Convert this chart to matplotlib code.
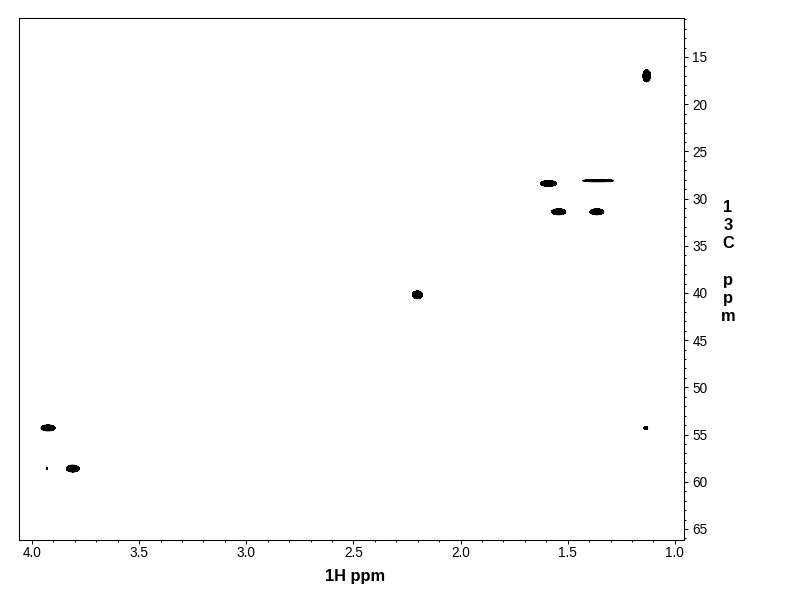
"""HSQC-style 2D NMR spectrum, black contour peaks (headless Agg backend)."""
import matplotlib

matplotlib.use("Agg")
import matplotlib.pyplot as plt  # noqa: E402
import numpy as np  # noqa: E402
from matplotlib.ticker import MultipleLocator, FormatStrFormatter  # noqa: E402

# peak list: 1H shift, 13C shift, half-widths (ppm)
h_shift = [1.131, 1.589, 1.357, 1.542, 1.364, 2.201, 3.925, 3.810, 3.930, 1.136]
c_shift = [17.0, 28.4, 28.1, 31.4, 31.4, 40.2, 54.3, 58.6, 58.6, 54.3]
h_width = [0.018, 0.037, 0.072, 0.033, 0.033, 0.024, 0.033, 0.030, 0.003, 0.010]
c_width = [0.64, 0.32, 0.13, 0.32, 0.32, 0.42, 0.32, 0.37, 0.10, 0.16]

x_lim = (4.063, 0.957)
y_lim = (66.17, 10.87)

fig = plt.figure(figsize=(7.92, 6.12), dpi=100)
ax = fig.add_axes([18.5 / 792, 72 / 612, 665.5 / 792, 522 / 612])

# build the spectrum from the peak list
hx = np.arange(0.95, 4.07, 0.0015)
cy = np.arange(10.8, 66.3, 0.03)
H, C = np.meshgrid(hx, cy)
Z = np.zeros_like(H)
thr = 0.3
k = np.sqrt(2 * np.log(1 / thr))
for h, c, wh, wc in zip(h_shift, c_shift, h_width, c_width):
    Z += np.exp(-0.5 * (((H - h) / (wh / k)) ** 2 + ((C - c) / (wc / k)) ** 2))

ax.contourf(H, C, Z, levels=[thr, 10], colors="k")
ax.contour(H, C, Z, levels=[thr, 0.5, 0.7, 0.9], colors="k", linewidths=0.6)

ax.set_xlim(*x_lim)
ax.set_ylim(*y_lim)

ax.xaxis.set_major_locator(MultipleLocator(0.5))
ax.xaxis.set_minor_locator(MultipleLocator(0.1))
ax.xaxis.set_major_formatter(FormatStrFormatter("%.1f"))
ax.yaxis.set_major_locator(MultipleLocator(5))
ax.yaxis.set_minor_locator(MultipleLocator(1))

ax.tick_params(axis="x", which="both", direction="out", top=False, bottom=True,
               labelsize=9.8, pad=1.5, width=0.75)
ax.tick_params(axis="y", which="both", direction="out", left=False, right=True,
               labelleft=False, labelright=True, labelsize=9.8, pad=3, width=0.75)
ax.tick_params(which="major", length=3)
ax.tick_params(which="minor", length=1.6)
for lbl in ax.get_xticklabels() + ax.get_yticklabels():
    lbl.set_family("Liberation Sans")
for sp in ax.spines.values():
    sp.set_linewidth(0.75)

fig.text(355 / 792, 1 - 577 / 612, "1H ppm", ha="center", va="center",
         fontsize=11.8, fontweight="bold", family="Liberation Sans")
ylab = ["1", "3", "C", "", "p", "p", "m"]
for i, ch in enumerate(ylab):
    fig.text(728 / 792, 1 - (207 + i * 18.3) / 612, ch, ha="center", va="center",
             fontsize=11.8, fontweight="bold", family="Liberation Sans")

fig.savefig("out.png", dpi=100)
plt.close(fig)
